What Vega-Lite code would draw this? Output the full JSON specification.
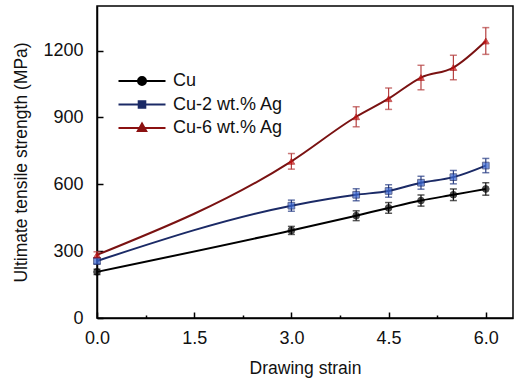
{
  "$schema": "https://vega.github.io/schema/vega-lite/v6.json",
  "width": 416,
  "height": 312,
  "autosize": {"type": "none"},
  "padding": {"left": 97, "top": 6, "right": 2, "bottom": 63},
  "background": "white",
  "config": {
    "font": "Liberation Sans",
    "view": {"stroke": "black", "strokeWidth": 1.5},
    "axis": {
      "labelFont": "Liberation Sans",
      "titleFont": "Liberation Sans",
      "labelFontSize": 18,
      "titleFontSize": 17.5,
      "labelColor": "#111111",
      "titleColor": "#111111",
      "titleFontWeight": "normal",
      "domainColor": "black",
      "domainWidth": 1.5,
      "tickColor": "black",
      "tickWidth": 1.5,
      "grid": false
    }
  },
  "data": {
    "values": [
      {"series": "Cu", "strain": 0, "uts": 207, "err": 12},
      {"series": "Cu", "strain": 3, "uts": 393, "err": 18},
      {"series": "Cu", "strain": 4, "uts": 459, "err": 22},
      {"series": "Cu", "strain": 4.5, "uts": 494, "err": 24},
      {"series": "Cu", "strain": 5, "uts": 527, "err": 25},
      {"series": "Cu", "strain": 5.5, "uts": 553, "err": 26},
      {"series": "Cu", "strain": 6, "uts": 579, "err": 28},
      {"series": "Cu-2 wt.% Ag", "strain": 0, "uts": 256, "err": 14},
      {"series": "Cu-2 wt.% Ag", "strain": 3, "uts": 504, "err": 25},
      {"series": "Cu-2 wt.% Ag", "strain": 4, "uts": 553, "err": 27},
      {"series": "Cu-2 wt.% Ag", "strain": 4.5, "uts": 570, "err": 28},
      {"series": "Cu-2 wt.% Ag", "strain": 5, "uts": 607, "err": 29},
      {"series": "Cu-2 wt.% Ag", "strain": 5.5, "uts": 632, "err": 30},
      {"series": "Cu-2 wt.% Ag", "strain": 6, "uts": 684, "err": 32},
      {"series": "Cu-6 wt.% Ag", "strain": 0, "uts": 283, "err": 14},
      {"series": "Cu-6 wt.% Ag", "strain": 3, "uts": 703, "err": 35},
      {"series": "Cu-6 wt.% Ag", "strain": 4, "uts": 903, "err": 45},
      {"series": "Cu-6 wt.% Ag", "strain": 4.5, "uts": 984, "err": 48},
      {"series": "Cu-6 wt.% Ag", "strain": 5, "uts": 1079, "err": 55},
      {"series": "Cu-6 wt.% Ag", "strain": 5.5, "uts": 1124, "err": 55},
      {"series": "Cu-6 wt.% Ag", "strain": 6, "uts": 1243, "err": 60}
    ]
  },
  "layer": [
    {
      "mark": {"type": "errorbar", "ticks": {"size": 7, "thickness": 1.5}, "rule": {"strokeWidth": 1.2}},
      "encoding": {
        "x": {"field": "strain", "type": "quantitative", "title": "Drawing strain"},
        "y": {"field": "uts", "type": "quantitative", "title": "Ultimate tensile strength (MPa)"},
        "yError": {"field": "err"},
        "color": {
          "field": "series", "type": "nominal", "legend": null,
          "scale": {"domain": ["Cu", "Cu-2 wt.% Ag", "Cu-6 wt.% Ag"], "range": ["#111111", "#2a3f86", "#b54040"]}
        }
      }
    },
    {
      "mark": {"type": "line", "interpolate": "monotone", "strokeWidth": 2},
      "encoding": {
        "x": {
          "field": "strain", "type": "quantitative",
          "scale": {"domain": [0, 6.42], "nice": false, "zero": false},
          "axis": {
            "title": "Drawing strain", "values": [0, 0.75, 1.5, 2.25, 3, 3.75, 4.5, 5.25, 6],
            "labelExpr": "datum.value % 1.5 === 0 ? format(datum.value, '.1f') : ''",
            "tickSize": {"condition": {"test": "datum.value % 1.5 === 0", "value": -6}, "value": -3},
            "labelPadding": 17, "titlePadding": 12, "labelFlush": false
          }
        },
        "y": {
          "field": "uts", "type": "quantitative",
          "scale": {"domain": [0, 1400], "nice": false},
          "axis": {
            "title": "Ultimate tensile strength (MPa)", "values": [0, 150, 300, 450, 600, 750, 900, 1050, 1200, 1350],
            "labelExpr": "datum.value % 300 === 0 ? datum.value : ''",
            "tickSize": {"condition": {"test": "datum.value % 300 === 0", "value": -6}, "value": -3},
            "labelPadding": 20, "titlePadding": 12, "labelFlush": false
          }
        },
        "color": {
          "field": "series", "type": "nominal", "legend": null,
          "scale": {"domain": ["Cu", "Cu-2 wt.% Ag", "Cu-6 wt.% Ag"], "range": ["#000000", "#1b2a66", "#7a1212"]}
        }
      }
    },
    {
      "mark": {"type": "point", "filled": true, "size": 45, "strokeWidth": 1},
      "encoding": {
        "x": {"field": "strain", "type": "quantitative"},
        "y": {"field": "uts", "type": "quantitative"},
        "shape": {
          "field": "series", "type": "nominal", "legend": null,
          "scale": {"domain": ["Cu", "Cu-2 wt.% Ag", "Cu-6 wt.% Ag"], "range": ["circle", "square", "triangle-up"]}
        },
        "fill": {
          "field": "series", "type": "nominal", "legend": null,
          "scale": {"domain": ["Cu", "Cu-2 wt.% Ag", "Cu-6 wt.% Ag"], "range": ["#000000", "#3a66d0", "#cc1111"]}
        },
        "stroke": {
          "field": "series", "type": "nominal", "legend": null,
          "scale": {"domain": ["Cu", "Cu-2 wt.% Ag", "Cu-6 wt.% Ag"], "range": ["#000000", "#1b2a66", "#aa1111"]}
        }
      }
    },
    {
      "transform": [{"filter": "false"}],
      "mark": {"type": "point", "filled": true, "strokeWidth": 2},
      "encoding": {
        "x": {"field": "strain", "type": "quantitative"},
        "y": {"field": "uts", "type": "quantitative"},
        "color": {
          "field": "series", "type": "nominal",
          "scale": {"domain": ["Cu", "Cu-2 wt.% Ag", "Cu-6 wt.% Ag"], "range": ["#000000", "#1b2a66", "#8b1111"]},
          "legend": {
            "title": null, "orient": "none", "legendX": 34, "legendY": 64,
            "symbolSize": 400, "symbolOpacity": 1, "symbolStrokeWidth": 2,
            "rowPadding": 3.5, "labelFontSize": 18, "labelFont": "Liberation Sans", "labelColor": "#111111",
            "labelOffset": 20
          }
        },
        "stroke": {
          "field": "series", "type": "nominal", "legend": null,
          "scale": {"domain": ["Cu", "Cu-2 wt.% Ag", "Cu-6 wt.% Ag"], "range": ["#000000", "#1b2a66", "#8b1111"]}
        },
        "shape": {
          "field": "series", "type": "nominal", "legend": null,
          "scale": {"domain": ["Cu", "Cu-2 wt.% Ag", "Cu-6 wt.% Ag"], "range": [
            "M-2.35,0H2.35M-0.4,0A0.4,0.4 0 1,0 0.4,0A0.4,0.4 0 1,0 -0.4,0Z",
            "M-2.35,0H2.35M-0.33,-0.33H0.33V0.33H-0.33Z",
            "M-2.35,0H2.35M0,-0.45L0.42,0.3H-0.42Z"
          ]}
        }
      }
    }
  ],
  "resolve": {"scale": {"color": "independent", "shape": "independent", "fill": "independent", "stroke": "independent"}}
}
